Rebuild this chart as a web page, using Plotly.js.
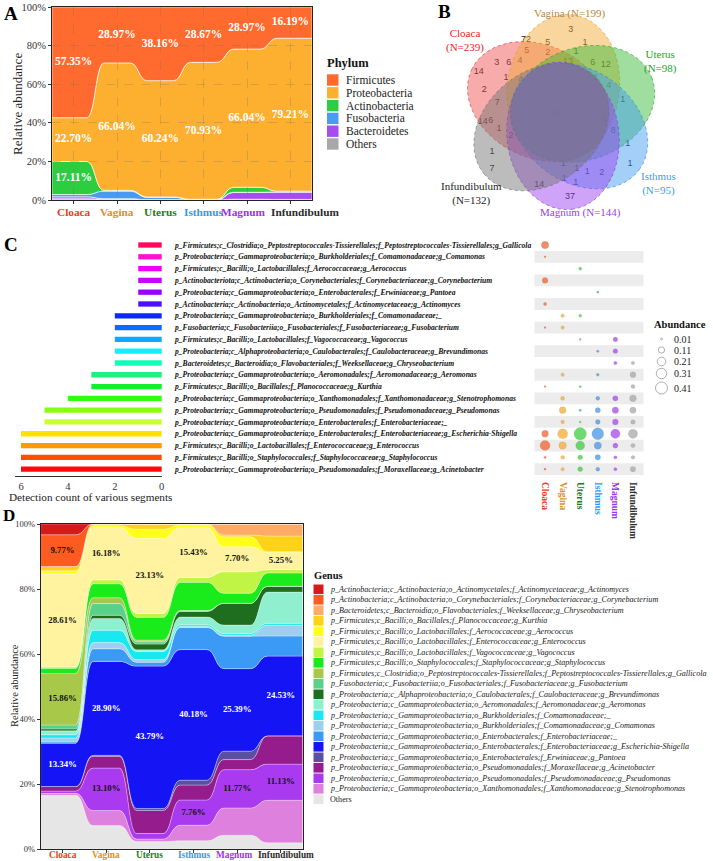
<!DOCTYPE html>
<html>
<head>
<meta charset="utf-8">
<script src="https://cdn.plot.ly/plotly-3.0.1.min.js"></script>
<style>html,body{margin:0;padding:0;background:#fff}#chart{width:713px;height:861px}</style>
</head>
<body>
<div id="chart"></div>
<script>
// ================= DATA =================
const segments = ['Cloaca','Vagina','Uterus','Isthmus','Magnum','Infundibulum'];

// ---- Panel A: phylum relative abundance (%) ----
const phylumNames    = ['Firmicutes','Proteobacteria','Actinobacteria','Fusobacteria','Bacteroidetes','Others'];
const firmicutes     = [57.35, 28.97, 38.16, 28.67, 21.80, 16.19];
const proteobacteria = [22.70, 66.04, 60.24, 70.93, 71.60, 79.21];
const actinobacteria = [17.11, 0.40, 0.20, 0.10, 2.60, 0.40];
const fusobacteria   = [1.20, 3.90, 1.20, 0.20, 0.10, 0.10];
const bacteroidetes  = [1.00, 0.40, 0.10, 0.05, 3.50, 3.80];
const phylumOthers   = [0.64, 0.29, 0.10, 0.05, 0.40, 0.30];
const firmicutesLabels     = ['57.35%','28.97%','38.16%','28.67%','28.97%','16.19%'];
const proteobacteriaLabels = ['22.70%','66.04%','60.24%','70.93%','66.04%','79.21%'];
const actinobacteriaLabels = ['17.11%','','','','',''];
const percentTicks = [0, 20, 40, 60, 80, 100];

// ---- Panel B: Venn diagram ----
const vennSets     = ['Cloaca','Vagina','Uterus','Isthmus','Magnum','Infundibulum'];
const vennSetSizes = [239, 199, 98, 95, 144, 132];
const vennCounts   = [3,72,5,1,5,2,1,13,6,12,3,6,4,14,1,4,4,4,2,1,7,37,14,6,6,1,2,8,1,1,7,1,1,1,2,1,1,14,1,37];
// label positions (pixel space of the Venn panel)
const vennCountX = [570.7,526,547.7,585,526.7,547.7,576,568,592.7,605.7,496.7,508.7,520,478.7,506,520.7,595,608.7,484.3,622.7,497.3,556.7,482.7,490.7,604.3,499,511,613.3,627.7,492,492,563.3,576.7,587.3,601.7,630,564.3,539.3,575.7,570];
const vennCountY = [29.3,39.3,42.7,42.7,51,52.7,51.5,62,62.7,65,62.7,62.7,61,71.7,77.7,79.3,77.7,86,90,99.3,102.7,114,121.7,120.7,120,128.3,136,131,143.3,152,168.3,163.3,169,171.7,172.7,163.3,179,185,182.7,196.7];

// ---- Panel C: marker genera ----
const markerTaxa = [
 'p_Firmicutes;c_Clostridia;o_Peptostreptococcales-Tissierellales;f_Peptostreptococcales-Tissierellales;g_Gallicola',
 'p_Proteobacteria;c_Gammaproteobacteria;o_Burkholderiales;f_Comamonadaceae;g_Comamonas',
 'p_Firmicutes;c_Bacilli;o_Lactobacillales;f_Aerococcaceae;g_Aerococcus',
 'p_Actinobacteriota;c_Actinobacteria;o_Corynebacteriales;f_Corynebacteriaceae;g_Corynebacterium',
 'p_Proteobacteria;c_Gammaproteobacteria;o_Enterobacterales;f_Erwiniaceae;g_Pantoea',
 'p_Actinobacteria;c_Actinobacteria;o_Actinomycetales;f_Actinomycetaceae;g_Actinomyces',
 'p_Proteobacteria;c_Gammaproteobacteria;o_Burkholderiales;f_Comamonadaceae;_',
 'p_Fusobacteria;c_Fusobacteriia;o_Fusobacteriales;f_Fusobacteriaceae;g_Fusobacterium',
 'p_Firmicutes;c_Bacilli;o_Lactobacillales;f_Vagococcaceae;g_Vagococcus',
 'p_Proteobacteria;c_Alphaproteobacteria;o_Caulobacterales;f_Caulobacteraceae;g_Brevundimonas',
 'p_Bacteroidetes;c_Bacteroidia;o_Flavobacteriales;f_Weeksellaceae;g_Chryseobacterium',
 'p_Proteobacteria;c_Gammaproteobacteria;o_Aeromonadales;f_Aeromonadaceae;g_Aeromonas',
 'p_Firmicutes;c_Bacilli;o_Bacillales;f_Planococcaceae;g_Kurthia',
 'p_Proteobacteria;c_Gammaproteobacteria;o_Xanthomonadales;f_Xanthomonadaceae;g_Stenotrophomonas',
 'p_Proteobacteria;c_Gammaproteobacteria;o_Pseudomonadales;f_Pseudomonadaceae;g_Pseudomonas',
 'p_Proteobacteria;c_Gammaproteobacteria;o_Enterobacterales;f_Enterobacteriaceae;_',
 'p_Proteobacteria;c_Gammaproteobacteria;o_Enterobacterales;f_Enterobacteriaceae;g_Escherichia-Shigella',
 'p_Firmicutes;c_Bacilli;o_Lactobacillales;f_Enterococcaceae;g_Enterococcus',
 'p_Firmicutes;c_Bacilli;o_Staphylococcales;f_Staphylococcaceae;g_Staphylococcus',
 'p_Proteobacteria;c_Gammaproteobacteria;o_Pseudomonadales;f_Moraxellaceae;g_Acinetobacter'];
const detectionCount = [1,1,1,1,1,1,2,2,2,2,2,3,3,4,5,5,6,6,6,6];
const detectionTicks = [0, 2, 4, 6];
const dotCloaca       = [0.1586,0.012,null,0.0977,null,0.031,null,0.012,null,null,null,null,0.012,null,null,null,0.1334,0.2861,0.016,0.014];
const dotVagina       = [null,null,null,null,null,null,0.038,0.036,null,null,null,0.036,null,0.046,0.131,0.039,0.2890,0.1618,0.043,0.036];
const dotUterus       = [null,null,0.028,null,null,null,0.025,null,0.012,null,null,null,0.016,null,0.017,0.012,0.4379,0.2313,0.070,0.071];
const dotIsthmus      = [null,null,null,null,0.015,null,null,null,null,0.017,null,0.024,null,0.048,0.0776,0.068,0.4018,0.1543,0.087,0.046];
const dotMagnum       = [null,null,null,null,null,null,null,null,0.066,0.067,0.034,null,null,0.084,0.1177,0.100,0.2539,0.0770,0.031,0.031];
const dotInfundibulum = [null,null,null,null,null,null,null,null,null,null,0.037,0.096,0.048,0.131,0.1113,0.062,0.2453,0.0525,0.041,0.087];
const abundanceLegend = [0.01,0.11,0.21,0.31,0.41];

// ---- Panel D: genus relative abundance (%), legend order (top of stack first) ----
const genusNames = [
 'p_Actinobacteria;c_Actinobacteria;o_Actinomycetales;f_Actinomycetaceae;g_Actinomyces',
 'p_Actinobacteria;c_Actinobacteria;o_Corynebacteriales;f_Corynebacteriaceae;g_Corynebacterium',
 'p_Bacteroidetes;c_Bacteroidia;o_Flavobacteriales;f_Weeksellaceae;g_Chryseobacterium',
 'p_Firmicutes;c_Bacilli;o_Bacillales;f_Planococcaceae;g_Kurthia',
 'p_Firmicutes;c_Bacilli;o_Lactobacillales;f_Aerococcaceae;g_Aerococcus',
 'p_Firmicutes;c_Bacilli;o_Lactobacillales;f_Enterococcaceae;g_Enterococcus',
 'p_Firmicutes;c_Bacilli;o_Lactobacillales;f_Vagococcaceae;g_Vagococcus',
 'p_Firmicutes;c_Bacilli;o_Staphylococcales;f_Staphylococcaceae;g_Staphylococcus',
 'p_Firmicutes;c_Clostridia;o_Peptostreptococcales-Tissierellales;f_Peptostreptococcales-Tissierellales;g_Gallicola',
 'p_Fusobacteria;c_Fusobacteriia;o_Fusobacteriales;f_Fusobacteriaceae;g_Fusobacterium',
 'p_Proteobacteria;c_Alphaproteobacteria;o_Caulobacterales;f_Caulobacteraceae;g_Brevundimonas',
 'p_Proteobacteria;c_Gammaproteobacteria;o_Aeromonadales;f_Aeromonadaceae;g_Aeromonas',
 'p_Proteobacteria;c_Gammaproteobacteria;o_Burkholderiales;f_Comamonadaceae;_',
 'p_Proteobacteria;c_Gammaproteobacteria;o_Burkholderiales;f_Comamonadaceae;g_Comamonas',
 'p_Proteobacteria;c_Gammaproteobacteria;o_Enterobacterales;f_Enterobacteriaceae;_',
 'p_Proteobacteria;c_Gammaproteobacteria;o_Enterobacterales;f_Enterobacteriaceae;g_Escherichia-Shigella',
 'p_Proteobacteria;c_Gammaproteobacteria;o_Enterobacterales;f_Erwiniaceae;g_Pantoea',
 'p_Proteobacteria;c_Gammaproteobacteria;o_Pseudomonadales;f_Moraxellaceae;g_Acinetobacter',
 'p_Proteobacteria;c_Gammaproteobacteria;o_Pseudomonadales;f_Pseudomonadaceae;g_Pseudomonas',
 'p_Proteobacteria;c_Gammaproteobacteria;o_Xanthomonadales;f_Xanthomonadaceae;g_Stenotrophomonas',
 'Others'];
const gActinomyces      = [3.30, 0, 0, 0, 0, 0];
const gCorynebacterium  = [9.77, 0, 0, 0, 0, 0];
const gChryseobacterium = [0, 0, 0, 0, 3.40, 3.70];
const gKurthia          = [1.30, 0.50, 1.60, 0.20, 0.50, 4.80];
const gAerococcus       = [1.00, 0.50, 2.80, 0.80, 3.10, 0.30];
const gEnterococcus     = [28.61, 16.18, 23.13, 15.43, 7.70, 5.25];
const gVagococcus       = [0.40, 1.20, 1.20, 1.50, 6.60, 1.00];
const gStaphylococcus   = [1.60, 4.30, 7.00, 8.70, 3.10, 4.10];
const gGallicola        = [15.86, 1.80, 0.50, 0, 0, 0];
const gFusobacterium    = [1.20, 3.60, 0.70, 0.30, 0, 0];
const gBrevundimonas    = [0.60, 1.00, 1.80, 1.70, 6.70, 1.80];
const gAeromonas        = [1.20, 3.60, 0.50, 2.40, 2.60, 9.60];
const gComamonadaceae   = [1.00, 3.80, 2.50, 0.50, 0.50, 0.60];
const gComamonas        = [1.20, 1.90, 0.80, 0.30, 0.30, 3.30];
const gEnterobacteriaceae = [0.40, 3.90, 1.20, 6.80, 10.00, 6.20];
const gEscherichia      = [13.34, 28.90, 43.79, 40.18, 25.39, 24.53];
const gPantoea          = [0, 0.30, 0.60, 1.50, 2.60, 0];
const gAcinetobacter    = [1.40, 3.60, 7.10, 4.60, 3.10, 8.70];
const gPseudomonas      = [0.70, 13.10, 1.70, 7.76, 11.77, 11.13];
const gStenotrophomonas = [0.60, 4.60, 0.80, 4.80, 8.40, 13.10];
const gOthers           = [16.52, 7.22, 2.28, 2.53, 4.24, 1.89];
// which genus/segment bands carry a percentage label
const labelledGenera = ['Corynebacterium','Enterococcus','Gallicola','Escherichia','Pseudomonas'];
const labelledSegments = [[0],[0,1,2,3,4,5],[0],[0,1,2,3,4,5],[1,3,4,5]];

// ================= STYLE =================
const W = 713, H = 861;
const px = v => v / W, py = v => 1 - v / H;
const SERIF = 'Liberation Serif, Times New Roman, serif';
const SANS = 'Liberation Sans, Arial, sans-serif';
const segColors = ['#ee3b24','#e0901e','#1e7a1e','#3399f0','#9933f5','#2a2a2a'];
const segLabelShift = [0, 0, 0, 0, -4, 15];
const segLabelShiftD = [0, 0, 0, 0, -3, 5];
const tickText = () => segments.map((s,i)=>`<b><span style="color:${segColors[i]}">${s}</span></b>`);
const phylumColors = ['#ff6a2f','#fdb030','#2ecc40','#4a9bf0','#a64df0','#a8a8a8'];
const barColors = ['#ff0a5a','#ff10d0','#ee00ff','#cc00ff','#9a00ff','#4a10ff','#0a28ff','#0a6cff','#10a8ff','#10f0ff','#10ffb8','#20f080','#10f030','#30ff10','#88ff10','#ccff30','#ffe000','#ff9a00','#ff5000','#ff0a0a'];
const dotColors = ['#f15a24','#f7a823','#33cc33','#3b8fe8','#a23cf0','#a3a3a3'];
const genusColors = ['#d7191c','#ff5a1f','#ffaa66','#ffd21a','#ffff19','#fff3a0','#c0f545','#1aeb1a','#a8c84a','#5ad18a','#1f6e1f','#8ff0d0','#1ae8f0','#9dd0ee','#3a9af5','#1414f5','#5a4fa0','#951c8c','#aa3af0','#de80de','#e6e6e6'];
const vennFill = ['rgba(238,80,80,0.48)','rgba(245,170,55,0.48)','rgba(55,185,55,0.48)','rgba(65,155,240,0.48)','rgba(155,65,240,0.48)','rgba(115,115,115,0.48)'];
const vennLine = ['rgba(220,50,50,0.9)','rgba(220,150,40,0.9)','rgba(40,160,40,0.9)','rgba(50,130,220,0.9)','rgba(140,50,220,0.9)','rgba(110,110,110,0.9)'];
const vennLabelColor = ['#e8231e','#b8863a','#2aa02a','#3a9ef0','#9a3cf0','#222222'];
const vennDir = [154, 82, 20, -36, -83, -141];

// ================= HELPERS =================
const f = v => (+v).toFixed(3);
function bandPath(lo, hi, w) {
  const n = lo.length;
  let p = `M0.5,${f(hi[0])}L${f(1+w)},${f(hi[0])}`;
  for (let j = 0; j < n-1; j++) {
    const m = j + 1.5;
    p += `C${f(m)},${f(hi[j])} ${f(m)},${f(hi[j+1])} ${f(j+2-w)},${f(hi[j+1])}`;
    p += `L${f(j === n-2 ? n+0.5 : j+2+w)},${f(hi[j+1])}`;
  }
  p += `L${f(n+0.5)},${f(lo[n-1])}L${f(n-w)},${f(lo[n-1])}`;
  for (let j = n-1; j > 0; j--) {
    const m = j + 0.5;
    p += `C${f(m)},${f(lo[j])} ${f(m)},${f(lo[j-1])} ${f(j+w)},${f(lo[j-1])}`;
    p += `L${f(j === 1 ? 0.5 : j-w)},${f(lo[j-1])}`;
  }
  return p + 'Z';
}
function stack(seriesBottomToTop) {
  let base = seriesBottomToTop[0].map(() => 0);
  return seriesBottomToTop.map(vals => {
    const lo = base.slice();
    const hi = base.map((b, i) => b + vals[i]);
    base = hi;
    return {lo, hi, mid: lo.map((l, i) => (l + hi[i]) / 2)};
  });
}
function ellipsePath(cx, cy, a, b, deg) {
  const t = deg * Math.PI / 180; let p = '';
  for (let k = 0; k <= 90; k++) {
    const th = k / 90 * 2 * Math.PI;
    const x = cx + a*Math.cos(th)*Math.cos(t) - b*Math.sin(th)*Math.sin(t);
    const y = cy - (a*Math.cos(th)*Math.sin(t) + b*Math.sin(th)*Math.cos(t));
    p += (k === 0 ? 'M' : 'L') + f(x) + ',' + f(y);
  }
  return p + 'Z';
}
const dotSize = v => 18.7 * Math.sqrt(v);

const shapes = [], annotations = [], traces = [];
const xIdx = segments.map((s, i) => i + 1);

// ================= PANEL A =================
const phylumStackSeries = [phylumOthers, bacteroidetes, fusobacteria, actinobacteria, proteobacteria, firmicutes];
const phylumStackColors = phylumColors.slice().reverse();
const stA = stack(phylumStackSeries);
stA.forEach((b, k) => shapes.push({type:'path', xref:'x', yref:'y', layer:'below', path: bandPath(b.lo, b.hi, 0.3),
  fillcolor: phylumStackColors[k], line:{color:'rgba(255,255,255,0.9)', width:0.7}}));
traces.push({type:'scatter', mode:'text', xaxis:'x', yaxis:'y', hoverinfo:'skip', showlegend:false,
  x: xIdx.concat(xIdx, xIdx), y: stA[5].mid.concat(stA[4].mid, stA[3].mid),
  text: firmicutesLabels.concat(proteobacteriaLabels, actinobacteriaLabels),
  textfont:{family:SERIF, size:11.5, color:'#ffffff', weight:'bold'}});
segments.forEach((s, i) => annotations.push({xref:'x', yref:'paper', x:i+1, y:py(204), yanchor:'top', xanchor:'center',
  xshift: segLabelShift[i], showarrow:false, text: tickText()[i], font:{family:SERIF, size:11.3}}));
annotations.push({xref:'paper', yref:'paper', x:px(17), y:py(104), xanchor:'center', yanchor:'middle', textangle:-90,
  showarrow:false, text:'Relative abundance', font:{family:SERIF, size:13, color:'#222'}});
// Phylum legend
annotations.push({xref:'paper', yref:'paper', x:px(325), y:py(63), xanchor:'left', yanchor:'middle', showarrow:false,
  text:'<b>Phylum</b>', font:{family:SERIF, size:12.5, color:'#111'}});
phylumNames.forEach((nm, i) => {
  const yc = 80 + i*12.8;
  shapes.push({type:'rect', xref:'paper', yref:'paper', x0:px(327), x1:px(338.5), y0:py(yc+5.7), y1:py(yc-5.7),
    fillcolor:phylumColors[i], line:{width:0}});
  annotations.push({xref:'paper', yref:'paper', x:px(344), y:py(yc), xanchor:'left', yanchor:'middle', showarrow:false,
    text:nm, font:{family:SERIF, size:11.5, color:'#222'}});
});

// ================= PANEL B =================
vennSets.forEach((s, k) => {
  const d = vennDir[k] * Math.PI / 180;
  const cx = 560 + 24*Math.cos(d), cy = 112 - 24*Math.sin(d);
  shapes.push({type:'path', xref:'x5', yref:'y5', path: ellipsePath(cx, cy, 74, 56, vennDir[k]),
    fillcolor: vennFill[k], line:{color: vennLine[k], width:0.7, dash:'dot'}});
});
traces.push({type:'scatter', mode:'text', xaxis:'x5', yaxis:'y5', hoverinfo:'skip', showlegend:false,
  x: vennCountX, y: vennCountY, text: vennCounts.map(String), textfont:{family:SANS, size:9, color:'#1a1a1a'}});
const vennLabelPos = [[465,35,46],[570,13,null],[660,55,67],[658,177,189],[580,212,null],[471,187,199]];
vennSets.forEach((s, k) => {
  const [x, y1, y2] = vennLabelPos[k];
  const txt = y2 === null ? `${s} (N=${vennSetSizes[k]})` : `${s}<br>(N=${vennSetSizes[k]})`;
  const yc = y2 === null ? y1 : (y1 + y2) / 2;
  annotations.push({xref:'x5', yref:'y5', x, y: yc, showarrow:false, xanchor:'center', yanchor:'middle',
    text: txt, font:{family:SERIF, size:11, color: vennLabelColor[k]}});
});

// ================= PANEL C =================
traces.push({type:'bar', orientation:'h', xaxis:'x2', yaxis:'y2', x: detectionCount, y: markerTaxa,
  marker:{color: barColors}, width:0.45, hoverinfo:'skip', showlegend:false});
markerTaxa.forEach((t, i) => {
  if (i % 2 === 1) shapes.push({type:'rect', xref:'x3 domain', yref:'y3', x0:0, x1:1, y0:i-0.5, y1:i+0.5,
    fillcolor:'#ececec', line:{width:0}, layer:'below'});
});
const dotCols = [dotCloaca, dotVagina, dotUterus, dotIsthmus, dotMagnum, dotInfundibulum];
dotCols.forEach((col, c) => {
  const xs = [], ys = [], ss = [];
  col.forEach((v, i) => { if (v !== null) { xs.push(segments[c]); ys.push(markerTaxa[i]); ss.push(dotSize(v)); } });
  traces.push({type:'scatter', mode:'markers', xaxis:'x3', yaxis:'y3', x: xs, y: ys, hoverinfo:'skip', showlegend:false,
    marker:{size: ss, sizemode:'diameter', color: dotColors[c], line:{color:'rgba(90,90,90,0.35)', width:0.4}}});
});
annotations.push({xref:'paper', yref:'paper', x:px(90), y:py(497), xanchor:'center', yanchor:'middle', showarrow:false,
  borderpad:0, text:'Detection count of various segments', font:{family:SERIF, size:11.2, color:'#222'}});
// size legend
annotations.push({xref:'paper', yref:'paper', x:px(652), y:py(324), xanchor:'left', yanchor:'middle', showarrow:false,
  text:'<b>Abundance</b>', font:{family:SERIF, size:10.5, color:'#111'}});
const legY = [339, 350, 361.5, 373.5, 388];
abundanceLegend.forEach((v, i) => {
  const r = dotSize(v) / 2;
  shapes.push({type:'circle', xref:'paper', yref:'paper', xsizemode:'pixel', ysizemode:'pixel',
    xanchor:px(661.5), yanchor:py(legY[i]), x0:-r, x1:r, y0:-r, y1:r, fillcolor:'rgba(255,255,255,0)',
    line:{color:'#9a9a9a', width:0.8}});
  annotations.push({xref:'paper', yref:'paper', x:px(672), y:py(legY[i]), xanchor:'left', yanchor:'middle', showarrow:false,
    text: v.toFixed(2), font:{family:SERIF, size:10, color:'#222'}});
});

// ================= PANEL D =================
const genusSeriesTop = [gActinomyces,gCorynebacterium,gChryseobacterium,gKurthia,gAerococcus,gEnterococcus,gVagococcus,gStaphylococcus,gGallicola,gFusobacterium,gBrevundimonas,gAeromonas,gComamonadaceae,gComamonas,gEnterobacteriaceae,gEscherichia,gPantoea,gAcinetobacter,gPseudomonas,gStenotrophomonas,gOthers];
const genusSeriesBottom = genusSeriesTop.slice().reverse();
const genusColorsBottom = genusColors.slice().reverse();
const stD = stack(genusSeriesBottom);
stD.forEach((b, k) => shapes.push({type:'path', xref:'x4', yref:'y4', layer:'below', path: bandPath(b.lo, b.hi, 0.3),
  fillcolor: genusColorsBottom[k], line:{color:'rgba(255,255,255,0.75)', width:0.4}}));
const labelSeriesIdx = {Corynebacterium:1, Enterococcus:5, Gallicola:8, Escherichia:15, Pseudomonas:18};
const dlx = [], dly = [], dlt = [], dlc = [];
labelledGenera.forEach((g, gi) => {
  const topIdx = labelSeriesIdx[g];
  const b = stD[genusSeriesTop.length - 1 - topIdx];
  labelledSegments[gi].forEach(s => {
    dlx.push(s + 1); dly.push(b.mid[s]); dlt.push(genusSeriesTop[topIdx][s].toFixed(2) + '%');
    dlc.push(g === 'Escherichia' ? '#ffffff' : '#111111');
  });
});
traces.push({type:'scatter', mode:'text', xaxis:'x4', yaxis:'y4', hoverinfo:'skip', showlegend:false,
  x: dlx, y: dly, text: dlt, textfont:{family:SERIF, size:8.8, color: dlc, weight:'bold'}});
segments.forEach((s, i) => annotations.push({xref:'x4', yref:'paper', x:i+1, y:py(860.5), yanchor:'bottom', xanchor:'center',
  xshift: segLabelShiftD[i], showarrow:false, text: tickText()[i], font:{family:SERIF, size:9.3}, borderpad:0}));
annotations.push({xref:'paper', yref:'paper', x:px(14), y:py(686), xanchor:'center', yanchor:'middle', textangle:-90,
  showarrow:false, text:'Relative abundance', font:{family:SERIF, size:10.5, color:'#222'}});
// Genus legend
annotations.push({xref:'paper', yref:'paper', x:px(312), y:py(575), xanchor:'left', yanchor:'middle', showarrow:false,
  text:'<b>Genus</b>', font:{family:SERIF, size:10.5, color:'#111'}});
genusNames.forEach((nm, i) => {
  const yc = 589.3 + i*10.5;
  shapes.push({type:'rect', xref:'paper', yref:'paper', x0:px(313.5), x1:px(323.5), y0:py(yc+4.8), y1:py(yc-4.8),
    fillcolor: genusColors[i], line:{width:0}});
  annotations.push({xref:'paper', yref:'paper', x:px(328), y:py(yc), xanchor:'left', yanchor:'middle', showarrow:false,
    text: nm, font:{family:SERIF, size:8.1, color:'#1a1a1a', style: nm === 'Others' ? 'normal' : 'italic'}});
});

// ================= PANEL LETTERS =================
[['A',3,2,19],['B',437,0,19],['C',3,233,19],['D',2,505,17]].forEach(([t,x,y,s]) => annotations.push({xref:'paper', yref:'paper',
  x:px(x), y:py(y), xanchor:'left', yanchor:'top', showarrow:false, borderpad:0, text:'<b>'+t+'</b>', font:{family:SERIF, size:s, color:'#000'}}));

// ================= LAYOUT =================
const frame = {showline:true, mirror:true, linecolor:'#222', linewidth:1};
const pctText = percentTicks.map(v => v + '%');
const layout = {
  width:W, height:H, autosize:false, margin:{l:0,r:0,t:0,b:0}, paper_bgcolor:'#fff', plot_bgcolor:'rgba(0,0,0,0)',
  showlegend:false, shapes, annotations,
  xaxis:Object.assign({domain:[px(52),px(312)], range:[0.5,6.5], anchor:'y', tickmode:'array', tickvals:xIdx, showticklabels:false,
    ticks:'outside', ticklen:3, tickcolor:'#333', showgrid:true, gridcolor:'rgba(110,110,110,0.35)',
    griddash:'dash', gridwidth:0.8, zeroline:false}, frame),
  yaxis:Object.assign({domain:[py(200),py(7)], range:[0,100], anchor:'x', tickmode:'array', tickvals:percentTicks, ticktext:pctText,
    tickfont:{family:SERIF, size:10.5, color:'#333'}, ticks:'outside', ticklen:3, tickcolor:'#333', showgrid:true,
    gridcolor:'rgba(110,110,110,0.35)', griddash:'dash', gridwidth:0.8, zeroline:false}, frame),
  xaxis2:{domain:[px(15),px(162)], range:[6.256,-0.013], anchor:'y2', tickmode:'array', tickvals:detectionTicks, showline:true, linecolor:'#333',
    ticks:'', ticklen:0, tickfont:{family:SERIF, size:10.5, color:'#333'}, showgrid:false, zeroline:false},
  yaxis2:{domain:[py(476),py(238)], type:'category', categoryorder:'array', categoryarray:markerTaxa, range:[19.58,-0.593],
    anchor:'x2', side:'right', showline:false, ticks:'', showgrid:false, ticklabelstandoff:12,
    tickfont:{family:SERIF, size:7.6, color:'#111', weight:'bold', style:'italic'}},
  xaxis3:{domain:[px(534.5),px(643.5)], type:'category', categoryorder:'array', categoryarray:segments, range:[-0.6,5.6],
    anchor:'y3', tickmode:'array', tickvals:segments, ticktext:tickText(), tickangle:90, ticks:'', showline:false, showgrid:false,
    zeroline:false, ticklabelstandoff:5, tickfont:{family:SERIF, size:9.5}},
  yaxis3:{domain:[py(476),py(238)], type:'category', categoryorder:'array', categoryarray:markerTaxa, range:[19.58,-0.593],
    anchor:'x3', showticklabels:false, ticks:'', showline:false, showgrid:false, zeroline:false},
  xaxis4:Object.assign({domain:[px(40.7),px(302.7)], range:[0.5,6.5], anchor:'y4', tickmode:'array', tickvals:xIdx, showticklabels:false,
    ticks:'outside', ticklen:3, tickcolor:'#333', showgrid:false, zeroline:false}, frame),
  yaxis4:Object.assign({domain:[py(849),py(524)], range:[0,100], anchor:'x4', tickmode:'array', tickvals:percentTicks, ticktext:pctText,
    tickfont:{family:SERIF, size:8.5, color:'#333'}, ticks:'outside', ticklen:3, tickcolor:'#333', showgrid:false, zeroline:false}, frame),
  xaxis5:{domain:[px(430),px(700)], range:[430,700], anchor:'y5', visible:false},
  yaxis5:{domain:[py(230),py(0)], range:[230,0], anchor:'x5', visible:false}
};
Plotly.newPlot('chart', traces, layout, {displayModeBar:false, staticPlot:true});
</script>
</body>
</html>
